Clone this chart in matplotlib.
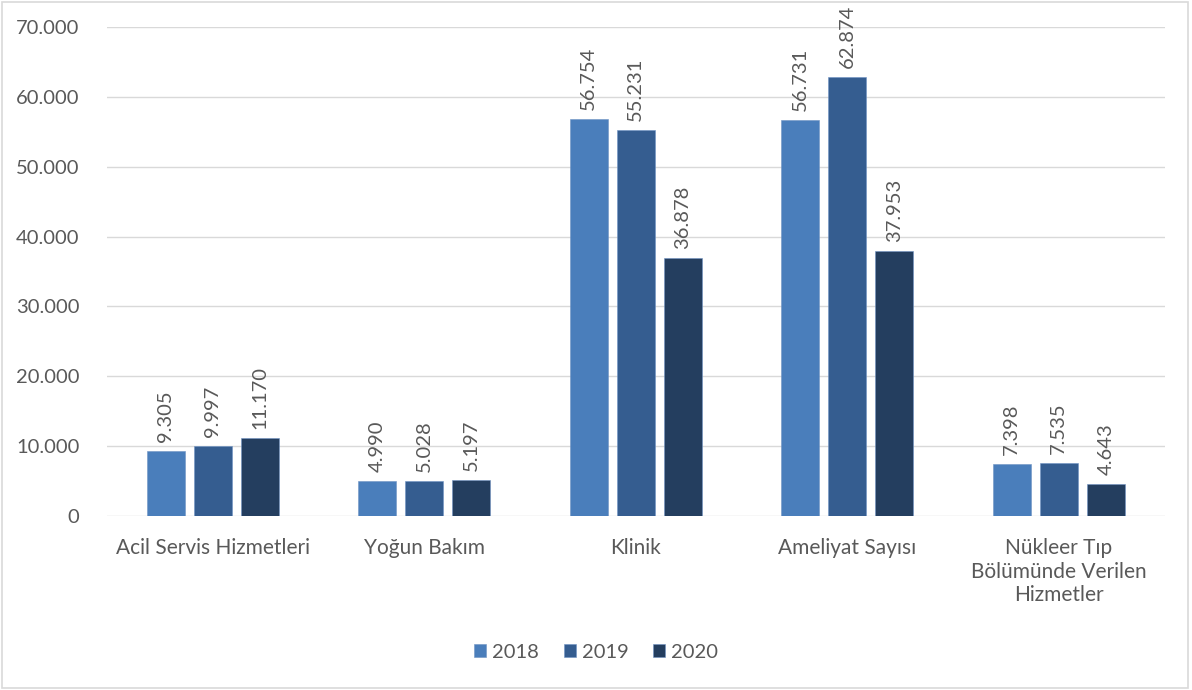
import matplotlib.pyplot as plt
import numpy as np
from matplotlib.patches import Rectangle
from matplotlib.ticker import FuncFormatter

categories = [
    "Acil Servis Hizmetleri",
    "Yoğun Bakım",
    "Klinik",
    "Ameliyat Sayısı",
    "Nükleer Tıp\nBölümünde Verilen\nHizmetler",
]
years = ["2018", "2019", "2020"]
v2018 = [9305, 4990, 56754, 56731, 7398]
v2019 = [9997, 5028, 55231, 62874, 7535]
v2020 = [11170, 5197, 36878, 37953, 4643]
colors = ["#4a7ebb", "#355d90", "#243e5f"]

plt.rcParams["font.family"] = ["Lato", "DejaVu Sans"]
TXT = "#595959"
FS = 14.5


def dotted(v):
    return f"{v:,.0f}".replace(",", ".")


fig = plt.figure(figsize=(11.92, 6.9), dpi=100)
fig.patches.append(Rectangle((0.002, 0.003), 0.995, 0.994, transform=fig.transFigure,
                             fill=False, edgecolor="#d9d9d9", linewidth=1.2))
ax = fig.add_axes([0.0898, 0.252, 0.8872, 0.709])

x = np.arange(len(categories))
width = 0.18
step = 0.222
for i, (vals, yr) in enumerate(zip([v2018, v2019, v2020], years)):
    pos = x + (i - 1) * step
    ax.bar(pos, vals, width, color=colors[i], label=yr, zorder=3,
           edgecolor="#6f93c4", linewidth=0.4)
    for xp, v in zip(pos, vals):
        ax.text(xp, v + 1300, dotted(v), rotation=90, ha="center", va="bottom",
                fontsize=FS, color=TXT)

ax.set_xlim(-0.5, 4.5)
ax.set_ylim(0, 70000)
ax.set_yticks(range(0, 70001, 10000))
ax.yaxis.set_major_formatter(FuncFormatter(lambda v, p: dotted(v)))
ax.grid(axis="y", color="#d9d9d9", linewidth=1, zorder=0)
for s in ax.spines.values():
    s.set_visible(False)
ax.tick_params(axis="both", length=0, labelsize=FS, colors=TXT)
ax.tick_params(axis="y", pad=20)
ax.set_xticks(x)
ax.set_xticklabels(categories, linespacing=1.2, fontsize=15)
ax.tick_params(axis="x", pad=16)

fig.legend(loc="center", bbox_to_anchor=(0.5, 0.055), ncol=3, frameon=False,
           fontsize=FS, labelcolor=TXT, handlelength=0.6, handleheight=0.6,
           handletextpad=0.3, columnspacing=1.2)

fig.savefig("out.png", dpi=100)
